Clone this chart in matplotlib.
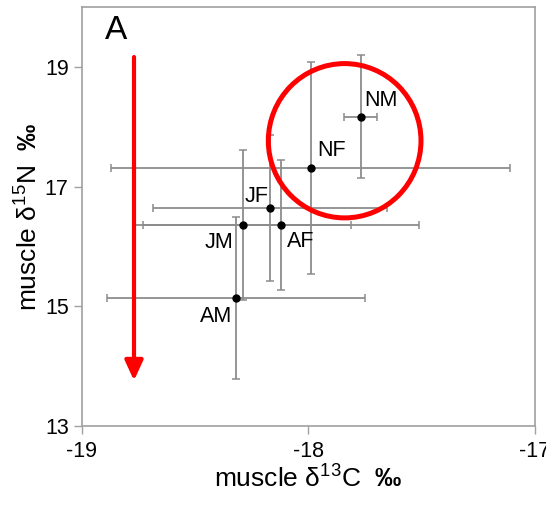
import matplotlib
matplotlib.use("Agg")
import matplotlib.pyplot as plt
from matplotlib.patches import Ellipse

plt.rcParams['font.family'] = ['Liberation Sans', 'DejaVu Sans']
plt.rcParams['mathtext.fontset'] = 'custom'
plt.rcParams['mathtext.rm'] = 'Liberation Sans'
plt.rcParams['mathtext.bf'] = 'Liberation Sans:bold'
plt.rcParams['axes.unicode_minus'] = False

# group means and SDs
labels = ['NM', 'NF', 'JF', 'JM', 'AF', 'AM']
d13c = [-17.77, -17.99, -18.17, -18.29, -18.12, -18.32]
d15n = [18.17, 17.31, 16.64, 16.36, 16.36, 15.14]
c_sd = [0.075, 0.88, 0.515, 0.48, 0.61, 0.57]
n_sd = [1.03, 1.77, 1.22, 1.26, 1.09, 1.36]

# label offsets (points) and alignment
offs = {'NM': (3, 4, 'left', 'bottom'),
        'NF': (5, 5, 'left', 'bottom'),
        'JF': (-1, 1, 'right', 'bottom'),
        'JM': (-7, -5, 'right', 'top'),
        'AF': (4, -4, 'left', 'top'),
        'AM': (-3, -6, 'right', 'top')}

xticks = [-19, -18, -17]
yticks = [13, 15, 17, 19]

fig = plt.figure(figsize=(5.46, 5.05), dpi=100)
ax = fig.add_axes([0.150, 0.1564, 0.8297, 0.829])

ax.errorbar(d13c, d15n, xerr=c_sd, yerr=n_sd, fmt='o', color='black',
            markersize=5, ecolor='#8c8c8c', elinewidth=1.3, capsize=3,
            capthick=1.1, zorder=3)

for lab, x, y in zip(labels, d13c, d15n):
    dx, dy, ha, va = offs[lab]
    ax.annotate(lab, (x, y), xytext=(dx, dy), textcoords='offset points',
                ha=ha, va=va, fontsize=15.5, zorder=4)

# red circle around N groups
ax.add_patch(Ellipse((-17.84, 17.77), 0.674, 2.58, fill=False,
                     edgecolor='#ff0000', lw=3.6, zorder=5))

# red downward arrow
ax.annotate('', xy=(-18.77, 13.76), xytext=(-18.77, 19.17),
            arrowprops=dict(arrowstyle='-|>,head_length=1.2,head_width=0.55',
                            color='#ff0000', lw=3, shrinkA=0, shrinkB=0,
                            mutation_scale=10), zorder=5)
ax.text(-18.9, 19.35, 'A', fontsize=24, ha='left', va='bottom')

ax.set_xlim(-19, -17)
ax.set_ylim(13, 20)
ax.set_xticks(xticks)
ax.set_yticks(yticks)
ax.tick_params(axis='both', labelsize=15.5, color='#a0a0a0', length=6,
               width=1, direction='out')
ax.tick_params(axis='x', pad=5)
for s in ax.spines.values():
    s.set_color('#a0a0a0')
    s.set_linewidth(1.2)

ax.set_xlabel('muscle δ$^{13}$C  $\\mathbf{‰}$', fontsize=19, labelpad=1)
ax.set_ylabel('muscle δ$^{15}$N  $\\mathbf{‰}$', fontsize=19, labelpad=2)

fig.savefig('out.png', dpi=100)
